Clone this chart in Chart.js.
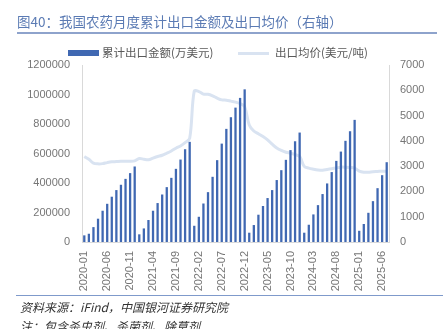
<!DOCTYPE html>
<html>
<head>
<meta charset="utf-8">
<script src="https://cdn.jsdelivr.net/npm/chart.js@4/dist/chart.umd.min.js"></script>
<style>
  html, body { margin:0; padding:0; background:#fff; }
  #wrap { position:relative; width:443px; height:329px; overflow:hidden; }
  #c { position:absolute; left:0; top:0; }
  .t { position:absolute; white-space:nowrap; font-family:"Noto Sans CJK SC","Noto Sans",sans-serif; }
  #title { left:17px; top:12px; font-size:13.5px; color:#5b7bb4; line-height:18px; }
  #rule { position:absolute; left:17px; top:32px; width:420px; height:1.5px; background:#8ea3cc; }
  #foot { position:absolute; left:16px; top:294.5px; width:427px; height:1.5px; background:#7f9acb; }
  .leg { font-size:11.5px; color:#595959; line-height:14px; top:45px; }
  #src { left:20px; top:299px; font-size:12px; color:#333; font-style:italic; line-height:16px; }
  #note { left:20px; top:318px; font-size:12px; color:#333; font-style:italic; line-height:16px; }
</style>
</head>
<body>
<div id="wrap">
  <canvas id="c" width="443" height="329"></canvas>
  <div class="t" id="title">图40：我国农药月度累计出口金额及出口均价（右轴）</div>
  <div id="rule"></div>
  <div style="position:absolute;left:68px;top:50px;width:31px;height:6px;background:#4068b2;"></div>
  <div class="t leg" style="left:102px;">累计出口金额(万美元)</div>
  <div style="position:absolute;left:238px;top:51.5px;width:31px;height:3px;background:#d9e3f1;"></div>
  <div class="t leg" style="left:275px;">出口均价(美元/吨)</div>
  <div id="foot"></div>
  <div class="t" id="src">资料来源：iFind，中国银河证券研究院</div>
  <div class="t" id="note">注：包含杀虫剂、杀菌剂、除草剂</div>
</div>
<script>
// Months 2020-01 .. 2025-07
const months = [];
for (let y = 2020; y <= 2025; y++) {
  for (let m = 1; m <= 12; m++) {
    if (y === 2025 && m > 7) break;
    months.push(y + '-' + String(m).padStart(2, '0'));
  }
}

// 累计出口金额(万美元)
const exportValue2020 = [45000, 56000, 101000, 158000, 212000, 259000, 307000, 352000, 388000, 428000, 467000, 512000];
const exportValue2021 = [52000, 92000, 149000, 212000, 264000, 322000, 372000, 435000, 496000, 559000, 629000, 679000];
const exportValue2022 = [110000, 171000, 261000, 338000, 442000, 555000, 667000, 767000, 846000, 911000, 977000, 1035000];
const exportValue2023 = [63000, 115000, 185000, 244000, 298000, 352000, 420000, 487000, 557000, 623000, 683000, 742000];
const exportValue2024 = [63000, 117000, 187000, 250000, 325000, 397000, 474000, 550000, 613000, 686000, 751000, 828000];
const exportValue2025 = [76000, 122000, 198000, 277000, 365000, 453000, 541000];

// 出口均价(美元/吨)
const avgPrice2020 = [3380, 3270, 3120, 3090, 3100, 3140, 3170, 3180, 3190, 3190, 3190, 3210];
const avgPrice2021 = [3300, 3270, 3250, 3320, 3380, 3430, 3510, 3600, 3710, 3800, 3930, 4100];
const avgPrice2022 = [5970, 5950, 5850, 5840, 5780, 5690, 5620, 5610, 5570, 5530, 5470, 5350];
const avgPrice2023 = [4630, 4390, 4280, 4170, 4040, 3870, 3720, 3620, 3550, 3510, 3460, 3380];
const avgPrice2024 = [2990, 2920, 2880, 2850, 2840, 2870, 2900, 2930, 2960, 2960, 2950, 2920];
const avgPrice2025 = [2800, 2760, 2760, 2780, 2790, 2800, 2800];

const exportValue = [].concat(exportValue2020, exportValue2021, exportValue2022, exportValue2023, exportValue2024, exportValue2025);
const avgPrice = [].concat(avgPrice2020, avgPrice2021, avgPrice2022, avgPrice2023, avgPrice2024, avgPrice2025);

const tickFont = { family: 'Liberation Sans', size: 11 };
const tickColor = '#767676';

function noPad(s) { s.paddingTop = 0; s.paddingBottom = 0; s.paddingLeft = 0; s.paddingRight = 0; }

new Chart(document.getElementById('c'), {
  type: 'bar',
  data: {
    labels: months,
    datasets: [
      {
        label: '累计出口金额(万美元)',
        data: exportValue,
        backgroundColor: '#4068b2',
        yAxisID: 'y',
        barPercentage: 0.5,
        categoryPercentage: 1.0,
        order: 0
      },
      {
        type: 'line',
        label: '出口均价(美元/吨)',
        data: avgPrice,
        borderColor: '#d9e3f1',
        borderWidth: 3,
        pointRadius: 0,
        tension: 0.35,
        yAxisID: 'y1',
        order: 1
      }
    ]
  },
  options: {
    responsive: false,
    animation: false,
    layout: { padding: { top: 65, bottom: 34, left: 0, right: 0 } },
    plugins: { legend: { display: false }, tooltip: { enabled: false } },
    scales: {
      x: {
        offset: true,
        grid: { display: false, drawTicks: false },
        border: { display: true, color: '#d9d9d9', width: 1 },
        ticks: {
          autoSkip: false,
          minRotation: 90,
          maxRotation: 90,
          padding: 9,
          font: tickFont,
          color: tickColor,
          callback: function (v, i) { return i % 5 === 0 ? months[i] : ''; }
        },
        afterFit: function (s) { s.height = 53; noPad(s); }
      },
      y: {
        position: 'left',
        min: 0, max: 1200000,
        grid: { display: false, drawTicks: false },
        border: { display: true, color: '#d9d9d9', width: 1 },
        ticks: {
          stepSize: 200000,
          padding: 12,
          font: tickFont,
          color: tickColor,
          callback: function (v) { return String(v); }
        },
        afterFit: function (s) { s.width = 82; noPad(s); }
      },
      y1: {
        position: 'right',
        min: 0, max: 7000,
        grid: { display: false, drawTicks: false },
        border: { display: true, color: '#d9d9d9', width: 1 },
        ticks: {
          stepSize: 1000,
          padding: 11,
          font: tickFont,
          color: tickColor,
          callback: function (v) { return String(v); }
        },
        afterFit: function (s) { s.width = 54; noPad(s); }
      }
    }
  }
});
</script>
</body>
</html>
